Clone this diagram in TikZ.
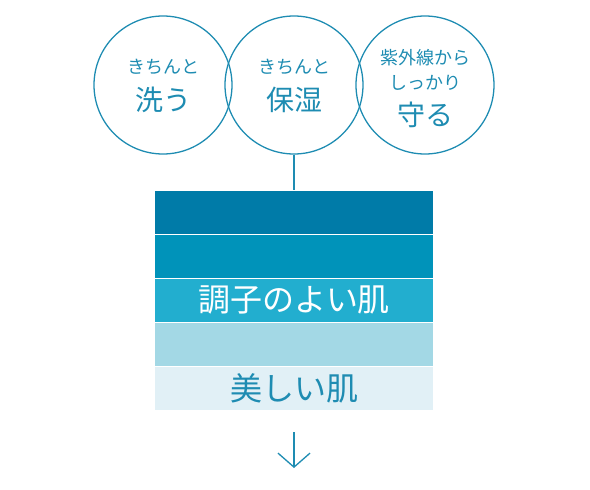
\documentclass[tikz,border=0pt]{standalone}
\usepackage{fontspec}
\newfontfamily\jp{Noto Sans CJK JP}[Scale=1]
\usetikzlibrary{arrows.meta}
\definecolor{ink}{HTML}{1E8CB2}
\definecolor{bandA}{HTML}{007BA8}
\definecolor{bandB}{HTML}{0093BA}
\definecolor{bandC}{HTML}{22AECF}
\definecolor{bandD}{HTML}{A3D8E5}
\definecolor{bandE}{HTML}{E1F0F6}
\tikzset{
  ring/.style={draw=ink, line width=1.3pt, circle, minimum size=138pt, inner sep=0pt},
  small/.style={text=ink, font=\jp\fontsize{18}{20}\selectfont},
  big/.style={text=ink, font=\jp\fontsize{28}{30}\selectfont},
  band/.style={draw=white, line width=0.8pt, minimum width=279pt, minimum height=44pt, inner sep=0pt, anchor=north},
  bandtext/.style={font=\jp\fontsize{32}{34}\selectfont},
  conn/.style={draw=ink, line width=1.3pt},
}
\begin{document}
\begin{tikzpicture}[x=1pt,y=-1pt]
\useasboundingbox (0,0) rectangle (590,490);
\node[ring] (c1) at (163,85) {};
\node[ring] (c2) at (294,85) {};
\node[ring] (c3) at (425,85) {};
\node[small] (t1a) at (163,67) {きちんと};
\node[big] (t1b) at (163,100) {洗う};
\node[small] (t2a) at (294,67) {きちんと};
\node[big] (t2b) at (294,100) {保湿};
\node[small] (t3a) at (425,58) {紫外線から};
\node[small] (t3b) at (425,83) {しっかり};
\node[big] (t3c) at (425,115) {守る};
\node[band, fill=bandA] (b1) at (294,190) {};
\node[band, fill=bandB] (b2) at (294,234) {};
\node[band, fill=bandC, text=white, bandtext] (b3) at (294,278) {調子のよい肌};
\node[band, fill=bandD] (b4) at (294,322) {};
\node[band, fill=bandE, text=ink, bandtext] (b5) at (294,366) {美しい肌};
\draw[conn] (c2.south) -- (b1.north);
\coordinate (a1) at (294,432);
\coordinate (a2) at (294,468);
\draw[conn, -{Straight Barb[length=14pt, width=32pt, line width=1.3pt]}] (a1) -- (a2);
\end{tikzpicture}
\end{document}
